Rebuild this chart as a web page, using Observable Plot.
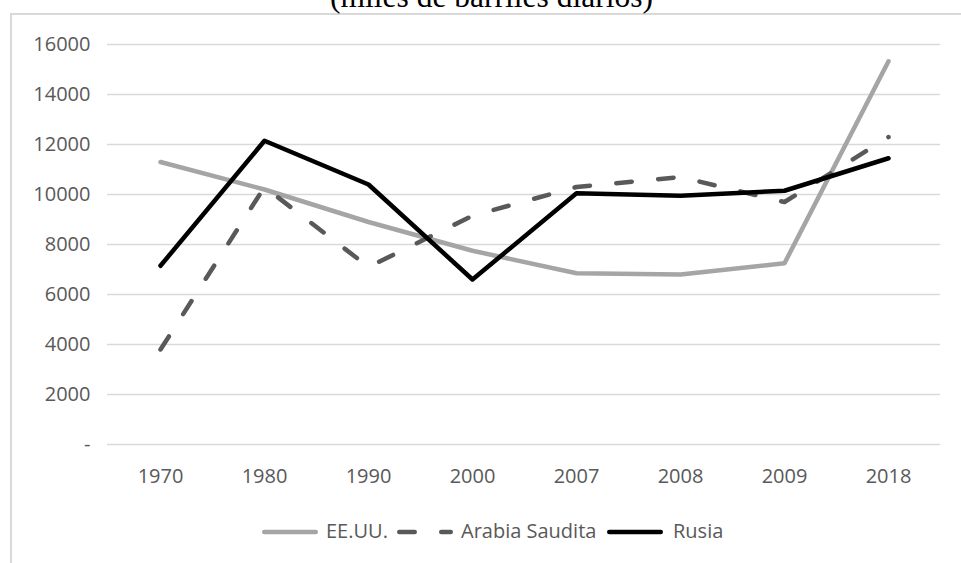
<!DOCTYPE html>
<html>
<head>
<meta charset="utf-8">
<script src="https://cdn.jsdelivr.net/npm/d3@7"></script>
<script src="https://cdn.jsdelivr.net/npm/@observablehq/plot@0.6"></script>
<style>
  html, body { margin: 0; padding: 0; background: #fff; }
  #wrap { position: relative; width: 961px; height: 563px; overflow: hidden; background: #fff; }
  #title { position: absolute; left: 0; width: 983px; top: -19px; text-align: center;
           font-family: "Liberation Serif", "Times New Roman", serif; font-size: 31.5px; line-height: 31.5px; color: #000; white-space: nowrap; }
  #frame { position: absolute; left: 10px; top: 13px; width: 960px; height: 560px;
           border-left: 2px solid #d9d9d9; border-top: 2px solid #d9d9d9; }
  #chart { position: absolute; left: 0; top: 0; }
  .leg { position: absolute; font-family: "Open Sans", sans-serif; font-size: 20px; color: #595959; white-space: nowrap; line-height: 20px; }
  .legsw { position: absolute; }
</style>
</head>
<body>
<div id="wrap">
  <div id="frame"></div>
  <div id="title">(miles de barriles diarios)</div>
  <div id="chart"></div>
  <div id="legend"></div>
</div>
<script>
const years = ["1970", "1980", "1990", "2000", "2007", "2008", "2009", "2018"];
const usa    = [11300, 10200, 8900, 7750, 6850, 6800, 7250, 15330];
const saudi  = [3800, 10300, 7100, 9150, 10300, 10700, 9700, 12300];
const russia = [7150, 12150, 10400, 6600, 10050, 9950, 10150, 11450];
const seriesNames = ["EE.UU.", "Arabia Saudita", "Rusia"];
const yTicks = [0, 2000, 4000, 6000, 8000, 10000, 12000, 14000, 16000];

const seriesStyles = [
  {stroke: "#a5a5a5", dash: null},
  {stroke: "#595959", dash: "15.5,26.5"},
  {stroke: "#000000", dash: null}
];
const seriesValues = [usa, saudi, russia];

const rows = (vals) => years.map((y, i) => ({year: y, value: vals[i]}));

const fontFamily = "'Open Sans', sans-serif";

const lineMarks = seriesValues.map((vals, k) =>
  Plot.line(rows(vals), {
    x: "year", y: "value",
    stroke: seriesStyles[k].stroke,
    strokeWidth: 4.5,
    strokeLinecap: "round",
    strokeLinejoin: "round",
    strokeDasharray: seriesStyles[k].dash ?? undefined
  })
);

const chart = Plot.plot({
  width: 961,
  height: 563,
  marginTop: 44,
  marginBottom: 119,
  marginLeft: 107,
  marginRight: 21,
  style: {background: "transparent", color: "#595959", fontFamily, overflow: "visible"},
  x: {type: "point", domain: years, padding: 0.5},
  y: {domain: [0, 16000]},
  marks: [
    Plot.ruleY(yTicks, {stroke: "#d9d9d9", strokeWidth: 1.5}),
    Plot.axisY({ticks: yTicks, tickFormat: d => d === 0 ? "-" : String(d), tickSize: 0, tickPadding: 17, fontSize: 20, label: null}),
    Plot.axisX({tickSize: 0, tickPadding: 24, fontSize: 20, label: null}),
    ...lineMarks
  ]
});
document.getElementById("chart").appendChild(chart);

// Legend
const legend = document.getElementById("legend");
const legItems = [
  {sx: 262, tx: 326},
  {sx: 397, tx: 461},
  {sx: 607, tx: 673}
];
const ns = "http://www.w3.org/2000/svg";
legItems.forEach((it, k) => {
  const svg = document.createElementNS(ns, "svg");
  svg.setAttribute("width", 60);
  svg.setAttribute("height", 12);
  svg.setAttribute("class", "legsw");
  svg.style.left = it.sx + "px";
  svg.style.top = (532 - 6) + "px";
  const ln = document.createElementNS(ns, "line");
  ln.setAttribute("x1", 2.25);
  ln.setAttribute("x2", 56 - 2.25);
  ln.setAttribute("y1", 6);
  ln.setAttribute("y2", 6);
  ln.setAttribute("stroke", seriesStyles[k].stroke);
  ln.setAttribute("stroke-width", 4.5);
  ln.setAttribute("stroke-linecap", "round");
  if (seriesStyles[k].dash) ln.setAttribute("stroke-dasharray", seriesStyles[k].dash);
  svg.appendChild(ln);
  legend.appendChild(svg);
  const t = document.createElement("div");
  t.className = "leg";
  t.textContent = seriesNames[k];
  t.style.left = it.tx + "px";
  t.style.top = (532 - 11) + "px";
  legend.appendChild(t);
});
</script>
</body>
</html>
